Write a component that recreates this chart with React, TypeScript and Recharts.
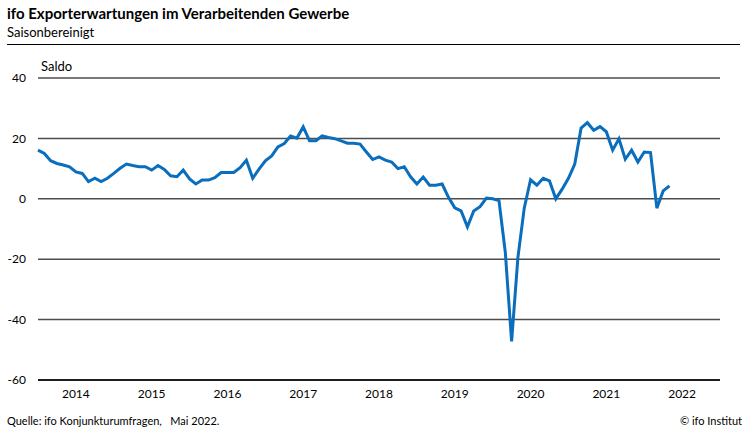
import { LineChart, Line, XAxis, YAxis, CartesianGrid } from "recharts";

// ifo Exporterwartungen, monthly from Jan 2014 to May 2022 (Saldo)
const values2014 = [16.1, 15.0, 12.6, 11.7, 11.2, 10.6, 8.9, 8.4, 5.7, 6.8, 5.7, 6.8];
const values2015 = [8.4, 10.1, 11.5, 11.0, 10.6, 10.6, 9.5, 11.0, 9.7, 7.6, 7.3, 9.5];
const values2016 = [6.6, 4.9, 6.2, 6.2, 7.0, 8.7, 8.7, 8.7, 10.3, 12.8, 6.8, 9.8];
const values2017 = [12.6, 14.2, 17.2, 18.3, 20.8, 20.1, 23.8, 19.2, 19.2, 20.8, 20.3, 19.9];
const values2018 = [19.2, 18.4, 18.4, 18.1, 15.5, 13.0, 13.9, 12.8, 12.2, 10.0, 10.6, 7.3];
const values2019 = [4.9, 7.2, 4.5, 4.5, 4.9, 0.5, -3.0, -4.0, -9.3, -4.0, -2.6, 0.2];
const values2020 = [0.0, -0.6, -17.7, -47.2, -19.4, -3.1, 6.3, 4.5, 6.8, 5.9, 0.0, 3.2];
const values2021 = [6.8, 11.5, 23.4, 25.2, 22.7, 23.9, 22.2, 16.1, 19.9, 13.1, 16.1, 12.2];
const values2022 = [15.5, 15.3, -3.1, 2.6, 4.3];

const years = [2014, 2015, 2016, 2017, 2018, 2019, 2020, 2021, 2022];
const yTicks = [-60, -40, -20, 0, 20, 40];

const series = [
  ...values2014, ...values2015, ...values2016, ...values2017, ...values2018,
  ...values2019, ...values2020, ...values2021, ...values2022,
];
const data = series.map((v, i) => ({ m: i, saldo: v }));

const yearBounds = [...years.map((_, i) => i * 12), years.length * 12];
const yearMids = years.map((_, i) => i * 12 + 6);

const font = "Lato, 'Noto Sans', sans-serif";

export default function App() {
  return (
    <div style={{ position: "absolute", left: 0, top: 0, width: 750, height: 437, background: "#fff", fontFamily: font, color: "#000" }}>
      <div style={{ position: "absolute", left: 7, top: 4, fontSize: 15, fontWeight: 700 }}>
        ifo Exporterwartungen im Verarbeitenden Gewerbe
      </div>
      <div style={{ position: "absolute", left: 7, top: 24, fontSize: 13 }}>Saisonbereinigt</div>
      <div style={{ position: "absolute", left: 7, top: 44, width: 733, height: 1, background: "#000" }} />
      <div style={{ position: "absolute", left: 41, top: 58, fontSize: 13 }}>Saldo</div>

      <LineChart width={750} height={437} data={data} margin={{ top: 78, right: 30, bottom: 21, left: 0 }}>
        <CartesianGrid horizontal vertical={false} stroke="#4d4d4d" strokeWidth={1.5} />
        <XAxis
          dataKey="m"
          type="number"
          domain={[0, 108]}
          ticks={yearBounds}
          tick={false}
          tickSize={5}
          height={6}
          axisLine={{ stroke: "#000", strokeWidth: 1.5 }}
          tickLine={{ stroke: "#000", strokeWidth: 1.5 }}
        />
        <XAxis
          xAxisId="yr"
          dataKey="m"
          type="number"
          domain={[0, 108]}
          ticks={yearMids}
          tickFormatter={(v: number) => String(years[(v - 6) / 12])}
          axisLine={false}
          tickLine={false}
          tickSize={0}
          tickMargin={3}
          height={30}
          tick={{ fill: "#000", fontSize: 12, fontFamily: font }}
        />
        <YAxis
          type="number"
          domain={[-60, 40]}
          ticks={yTicks}
          axisLine={false}
          tickLine={false}
          tickSize={0}
          tickMargin={12}
          width={38}
          tick={{ fill: "#000", fontSize: 12, fontFamily: font }}
        />
        <Line
          type="linear"
          dataKey="saldo"
          stroke="#0a6ebd"
          strokeWidth={3}
          dot={false}
          isAnimationActive={false}
        />
      </LineChart>

      <div style={{ position: "absolute", left: 7, top: 414, fontSize: 11 }}>
        Quelle: ifo Konjunkturumfragen,&nbsp;&nbsp; Mai 2022.
      </div>
      <div style={{ position: "absolute", right: 8, top: 414, fontSize: 11 }}>© ifo Institut</div>
    </div>
  );
}
